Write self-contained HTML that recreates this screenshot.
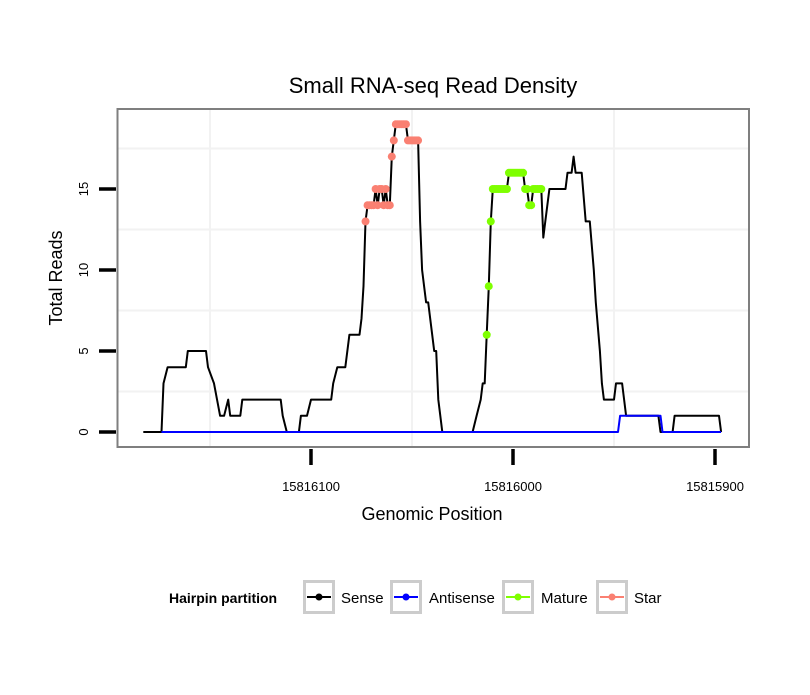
<!DOCTYPE html>
<html><head><meta charset="utf-8"><style>
body{margin:0;background:#fff;font-family:"Liberation Sans",sans-serif}
svg text{font-family:"Liberation Sans",sans-serif}
</style></head><body>
<svg id="c" width="810" height="690" xmlns="http://www.w3.org/2000/svg">
<rect x="0" y="0" width="810" height="690" fill="#fff"/>
<text x="433" y="93" font-size="22" text-anchor="middle">Small RNA-seq Read Density</text>
<g id="grid"></g>
<g id="series"></g>
<rect x="117.5" y="109" width="631.5" height="338" fill="none" stroke="#7f7f7f" stroke-width="2"/>
<g id="axes"></g>
<text x="432" y="520" font-size="18" text-anchor="middle">Genomic Position</text>
<text transform="translate(62,278) rotate(-90)" font-size="18" text-anchor="middle">Total Reads</text>
<g>
<text x="169" y="603" font-size="14" font-weight="bold">Hairpin partition</text>
<g><rect x="304.5" y="581.5" width="29" height="31" fill="#fff" stroke="#ccc" stroke-width="3"/><line x1="307" y1="597" x2="331" y2="597" stroke="#000" stroke-width="2"/><circle cx="319" cy="597" r="3.5" fill="#000"/><text x="341" y="603" font-size="15">Sense</text></g>
<g><rect x="391.5" y="581.5" width="29" height="31" fill="#fff" stroke="#ccc" stroke-width="3"/><line x1="394" y1="597" x2="418" y2="597" stroke="#0000ff" stroke-width="2"/><circle cx="406" cy="597" r="3.5" fill="#0000ff"/><text x="429" y="603" font-size="15">Antisense</text></g>
<g><rect x="503.5" y="581.5" width="29" height="31" fill="#fff" stroke="#ccc" stroke-width="3"/><line x1="506" y1="597" x2="530" y2="597" stroke="#7fff00" stroke-width="2"/><circle cx="518" cy="597" r="3.5" fill="#7fff00"/><text x="541" y="603" font-size="15">Mature</text></g>
<g><rect x="597.5" y="581.5" width="29" height="31" fill="#fff" stroke="#ccc" stroke-width="3"/><line x1="600" y1="597" x2="624" y2="597" stroke="#fa8072" stroke-width="2"/><circle cx="612" cy="597" r="3.5" fill="#fa8072"/><text x="634" y="603" font-size="15">Star</text></g>
</g>
</svg>
<script>
const xTicks=[15816100,15816000,15815900];
const xTickLabels=["15816100","15816000","15815900"];
const yTicks=[0,5,10,15];
const yTickLabels=["0","5","10","15"];
const senseOffsets=[183,174,173,171,162,161,152,151,148,145,143,141,140,135,134,115,114,112,106,105,102,100,90,89,87,83,81,76,75,74,73,72,71,70,69,68,67,66,65,64,63,62,61,60,59,58,57,56,55,54,53,52,51,50,49,48,47,46,45,44,43,42,41,40,39,38,37,36,35,20,18,16,15,14,13,12,11,10,3,2,-5,-6,-7,-8,-9,-10,-14,-15,-16,-18,-26,-27,-29,-30,-31,-34,-36,-38,-40,-41,-43,-44,-45,-50,-51,-54,-56,-72,-73,-79,-80,-102,-103];
const senseValues=[0,0,3,4,4,5,5,4,3,1,1,2,1,1,2,2,1,0,0,1,1,2,2,3,4,4,6,6,7,9,13,14,14,14,14,15,14,15,15,14,15,14,14,17,18,19,19,19,19,19,19,18,18,18,18,18,18,13,10,9,8,8,7,6,5,5,2,1,0,0,1,2,3,3,6,9,13,15,15,16,16,15,15,14,14,15,15,12,13,15,15,16,16,17,16,16,13,13,10,8,5,3,2,2,3,3,1,1,0,0,1,1,0];
const antisenseOffsets=[174,-52,-53,-73,-74,-103];
const antisenseValues=[0,0,1,1,0,0];
const matureOffsets=[13,12,11,10,9,8,7,6,5,4,3,2,1,0,-1,-2,-3,-4,-5,-6,-7,-8,-9,-10,-11,-12,-13,-14];
const matureValues=[6,9,13,15,15,15,15,15,15,15,15,16,16,16,16,16,16,16,16,15,15,14,14,15,15,15,15,15];
const starOffsets=[73,72,71,70,69,68,67,66,65,64,63,62,61,60,59,58,57,56,55,54,53,52,51,50,49,48,47];
const starValues=[13,14,14,14,14,15,14,15,15,14,15,14,14,17,18,19,19,19,19,19,19,18,18,18,18,18,18];
const BASE=15816100;
const ORIGIN=15816000;
const NS="http://www.w3.org/2000/svg";
function xs(pos){return 311+(BASE-pos)*2.02;}
function ys(v){return 432-v*16.2;}
function el(t,a,p){const e=document.createElementNS(NS,t);for(const k in a)e.setAttribute(k,a[k]);p.appendChild(e);return e;}
const grid=document.getElementById('grid'),axes=document.getElementById('axes'),ser=document.getElementById('series');
[2.5,7.5,12.5,17.5].forEach(v=>{const l=el('line',{x1:118,x2:748,y1:ys(v),y2:ys(v),stroke:'#f2f2f2','stroke-width':2},grid);

});
[15816150,15816050,15815950].forEach(p=>{const l=el('line',{x1:xs(p),x2:xs(p),y1:110,y2:446,stroke:'#f2f2f2','stroke-width':2},grid);

});
xTicks.forEach((p,i)=>{const t=el('line',{x1:xs(p),x2:xs(p),y1:449,y2:465,stroke:'#000','stroke-width':3.5},axes);


const tx=el('text',{x:xs(p),y:491,'font-size':13,'text-anchor':'middle'},axes);tx.textContent=xTickLabels[i];

});
yTicks.forEach((v,i)=>{const t=el('line',{x1:99,x2:116,y1:ys(v),y2:ys(v),stroke:'#000','stroke-width':3.5},axes);


const tx=el('text',{transform:`translate(88,${ys(v)}) rotate(-90)`,'font-size':13,'text-anchor':'middle'},axes);tx.textContent=yTickLabels[i];

});
function path(offs,vals,col,name){const d=offs.map((o,i)=>(i?'L':'M')+xs(ORIGIN+o).toFixed(1)+','+ys(vals[i]).toFixed(1)).join(' ');
const p=el('path',{d:d,fill:'none',stroke:col,'stroke-width':2,'stroke-linejoin':'round'},ser);

}
function dots(offs,vals,col,name){offs.forEach((o,i)=>{const c=el('circle',{cx:xs(ORIGIN+o),cy:ys(vals[i]),r:4,fill:col},ser);

});}
path(senseOffsets,senseValues,'#000','sense-line');
path(antisenseOffsets,antisenseValues,'#0000ff','antisense-line');
dots(matureOffsets,matureValues,'#7fff00','mature-point');
dots(starOffsets,starValues,'#fa8072','star-point');
</script>
</body></html>
